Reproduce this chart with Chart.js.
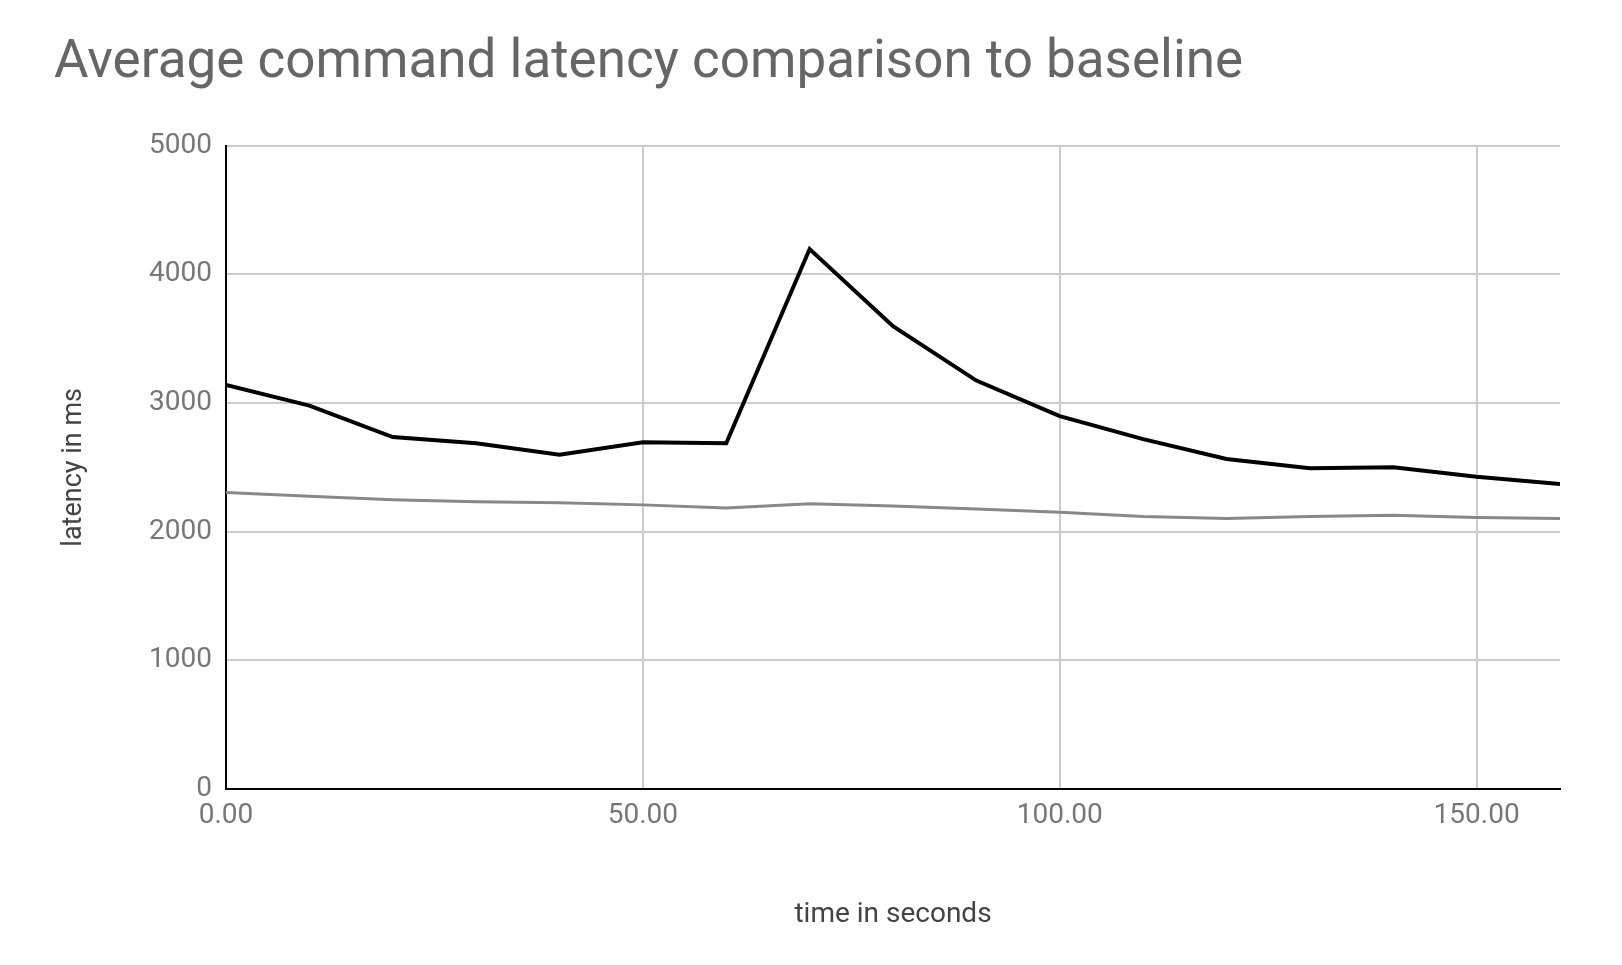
<!DOCTYPE html>
<html><head><meta charset="utf-8">
<script src="https://cdn.jsdelivr.net/npm/chart.js@4"></script>
<style>html,body{margin:0;padding:0;background:#fff}#w{width:1622px;height:965px}</style>
</head><body><div id="w"><canvas id="c"></canvas></div>
<script>
const times = [0,10,20,30,40,50,60,70,80,90,100,110,120,130,140,150,160];
const latency = [3141,2979,2735,2687,2597,2695,2687,4196,3596,3174,2898,2719,2565,2492,2500,2427,2370];
const baseline = [2305,2275,2248,2232,2224,2208,2183,2216,2200,2175,2151,2118,2102,2118,2127,2110,2102];
const xTicks = [0,50,100,150];
const yTicks = [0,1000,2000,3000,4000,5000];
const pts = a => times.map((t,i)=>({x:t,y:a[i]}));
new Chart(document.getElementById('c'),{
 type:'line',
 data:{datasets:[
  {label:'latency',data:pts(latency),borderColor:'#000',borderWidth:4,pointRadius:0,tension:0},
  {label:'baseline',data:pts(baseline),borderColor:'#888',borderWidth:3,pointRadius:0,tension:0}
 ]},
 options:{responsive:true,maintainAspectRatio:false,animation:false,
  layout:{padding:{left:54,right:62,top:32,bottom:29}},
  plugins:{legend:{display:false},tooltip:{enabled:false},
   title:{display:true,text:'Average command latency comparison to baseline',align:'start',color:'#666',
    font:{family:'Roboto',size:53,weight:'normal'},padding:{top:0,bottom:50}}},
  scales:{
   x:{type:'linear',min:0,max:160,
    afterBuildTicks:s=>{s.ticks=xTicks.map(v=>({value:v}));},
    afterFit:s=>{s.height=147;},
    ticks:{color:'#777',font:{family:'Roboto',size:28},padding:10,callback:v=>v.toFixed(2),maxRotation:0},
    grid:{color:'#ccc',lineWidth:2,drawTicks:false},border:{color:'#000',width:2},
    title:{display:true,text:'time in seconds',color:'#444',font:{family:'Roboto',size:28},padding:{top:55}}},
   y:{min:0,max:5000,
    afterBuildTicks:s=>{s.ticks=yTicks.map(v=>({value:v}));},
    afterFit:s=>{s.width=172;},
    ticks:{color:'#777',font:{family:'Roboto',size:28},padding:14,callback:v=>String(v)},
    grid:{color:'#ccc',lineWidth:2,drawTicks:false},border:{color:'#000',width:2},
    title:{display:true,text:'latency in ms',color:'#444',font:{family:'Roboto',size:27},padding:{bottom:40}}}
  }}
});
</script></body></html>
